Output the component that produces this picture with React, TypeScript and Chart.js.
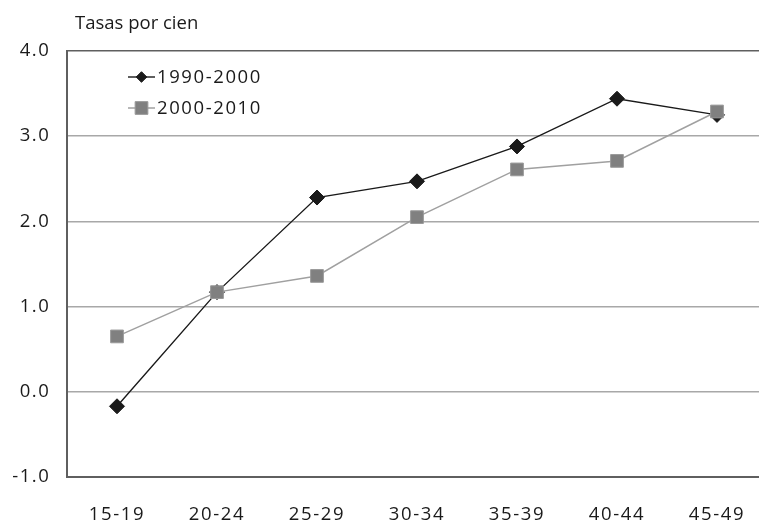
import React, { useEffect, useRef } from "react";
import { Chart, registerables } from "chart.js";

Chart.register(...registerables);

const categories = ["15-19", "20-24", "25-29", "30-34", "35-39", "40-44", "45-49"];
const series1990 = [-0.17, 1.17, 2.28, 2.47, 2.88, 3.44, 3.25];
const series2000 = [0.65, 1.17, 1.36, 2.05, 2.61, 2.71, 3.29];
const seriesLabels = ["1990-2000", "2000-2010"];
const yMin = -1;
const yMax = 4;
const yStep = 1;
const titleText = "Tasas por cien";

const FONT = "'Open Sans', 'DejaVu Sans', sans-serif";
const DARK = "#1a1a1a";
const SQUARE_FILL = "#808080";
const SQUARE_LINE = "#a0a0a0";
const AXIS = "#5f5f5f";
const GRID = "#a8a8a8";
const SPACING = "1.6px";
const TICK_SIZE = 18.5;
const TICK_WEIGHT = 500;

const overlayPlugin = {
  id: "overlay",
  beforeDraw(chart: any) {
    (chart.ctx as any).letterSpacing = SPACING;
  },
  afterDraw(chart: any) {
    const ctx = chart.ctx as CanvasRenderingContext2D;
    ctx.save();
    // title
    (ctx as any).letterSpacing = "0px";
    ctx.fillStyle = DARK;
    ctx.font = `500 18.5px ${FONT}`;
    ctx.textBaseline = "alphabetic";
    ctx.textAlign = "left";
    ctx.fillText(titleText, 75, 29);
    // legend
    const x0 = 128;
    const x1 = 155;
    chart.data.datasets.forEach((ds: any, i: number) => {
      const y = 77 + i * 31;
      ctx.strokeStyle = ds.borderColor;
      ctx.lineWidth = ds.borderWidth;
      ctx.beginPath();
      ctx.moveTo(x0, y);
      ctx.lineTo(x1, y);
      ctx.stroke();
      const cx = (x0 + x1) / 2;
      ctx.fillStyle = ds.pointBackgroundColor;
      ctx.strokeStyle = ds.pointBorderColor;
      ctx.lineWidth = 1;
      ctx.beginPath();
      const s = ds.pointRadius * Math.SQRT1_2;
      if (ds.pointStyle === "rectRot") {
        ctx.moveTo(cx - s, y);
        ctx.lineTo(cx, y - s);
        ctx.lineTo(cx + s, y);
        ctx.lineTo(cx, y + s);
        ctx.closePath();
      } else {
        ctx.rect(cx - s, y - s, 2 * s, 2 * s);
      }
      ctx.fill();
      ctx.stroke();
      (ctx as any).letterSpacing = SPACING;
      ctx.fillStyle = DARK;
      ctx.font = `${TICK_WEIGHT} ${TICK_SIZE}px ${FONT}`;
      ctx.textBaseline = "middle";
      ctx.fillText(ds.label, 157, y + 1);
    });
    ctx.restore();
    (ctx as any).letterSpacing = "0px";
  },
};

export default function App() {
  const ref = useRef<HTMLCanvasElement | null>(null);
  useEffect(() => {
    if (!ref.current) return;
    const chart = new Chart(ref.current, {
      type: "line",
      data: {
        labels: categories,
        datasets: [
          {
            label: seriesLabels[0],
            data: series1990,
            borderColor: DARK,
            borderWidth: 1.4,
            pointStyle: "rectRot",
            pointRadius: 7.5,
            pointBackgroundColor: DARK,
            pointBorderColor: DARK,
            pointBorderWidth: 1,
            order: 2,
          } as any,
          {
            label: seriesLabels[1],
            data: series2000,
            borderColor: SQUARE_LINE,
            borderWidth: 1.5,
            pointStyle: "rect",
            pointRadius: 9,
            pointBackgroundColor: SQUARE_FILL,
            pointBorderColor: "#9a9a9a",
            pointBorderWidth: 1,
            order: 1,
          } as any,
        ],
      },
      options: {
        responsive: false,
        animation: false,
        layout: { padding: { top: 51, right: 23, left: 0, bottom: 0 } },
        plugins: { legend: { display: false }, tooltip: { enabled: false }, title: { display: false } },
        scales: {
          x: {
            offset: true,
            grid: { display: false, drawTicks: false },
            border: { display: true, color: AXIS, width: 2 },
            ticks: {
              color: DARK,
              font: { family: FONT, size: TICK_SIZE, weight: TICK_WEIGHT as any },
              padding: 27,
              maxRotation: 0,
            },
            afterFit: (s: any) => {
              s.height = 46;
            },
          },
          y: {
            min: yMin,
            max: yMax,
            ticks: {
              stepSize: yStep,
              color: DARK,
              font: { family: FONT, size: TICK_SIZE, weight: TICK_WEIGHT as any },
              padding: 16.5,
              callback: (v: any) => Number(v).toFixed(1),
            },
            grid: {
              drawTicks: false,
              lineWidth: 1.5,
              color: (c: any) => (c.tick && (c.tick.value === yMax || c.tick.value === yMin) ? AXIS : GRID),
            },
            border: { display: true, color: AXIS, width: 2 },
            afterFit: (s: any) => {
              s.width = 67;
            },
          },
        },
      },
      plugins: [overlayPlugin],
    });
    return () => chart.destroy();
  }, []);
  return (
    <div style={{ position: "fixed", left: 0, top: 0, width: 759, height: 523, overflow: "hidden", background: "#fff" }}>
      <canvas ref={ref} width={790} height={523} style={{ display: "block" }} />
    </div>
  );
}
